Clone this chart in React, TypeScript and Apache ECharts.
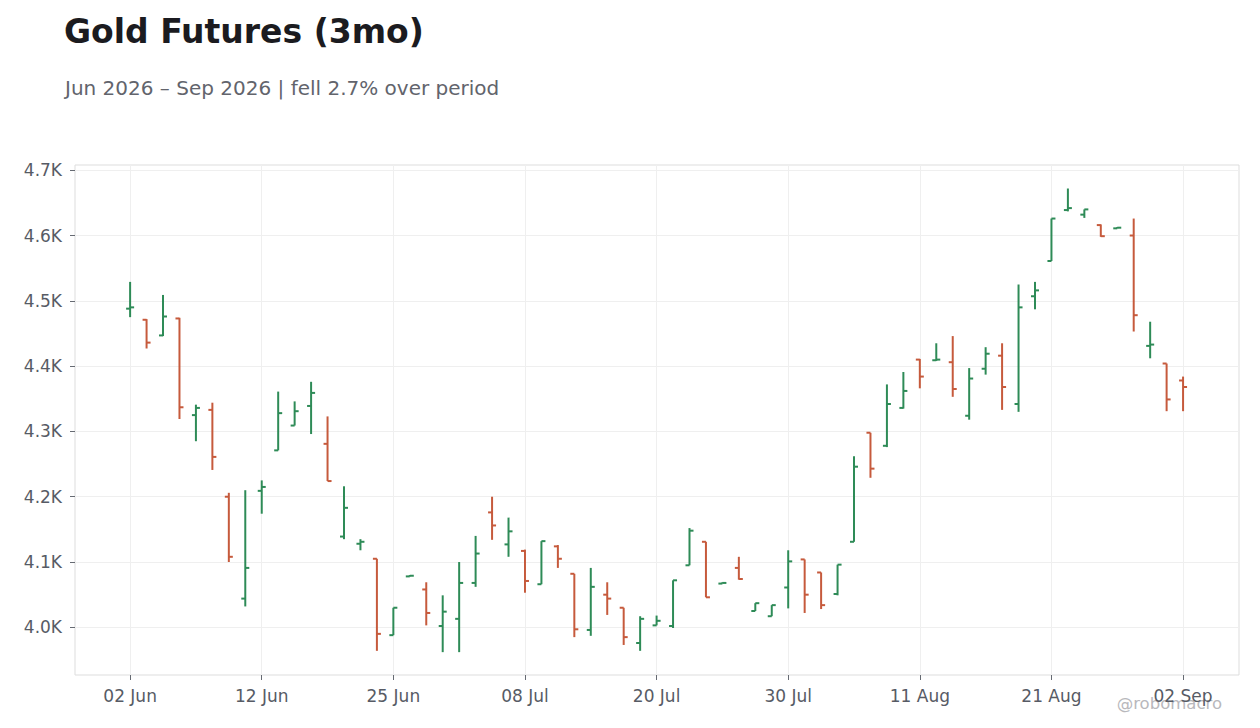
import React, { useEffect, useRef } from "react";
import * as echarts from "echarts";

// OHLC per trading day, 02 Jun 2026 .. 02 Sep 2026 (65 sessions)
const opens = [
  4488, 4471, 4447, 4473, 4325, 4333, 4200, 4044, 4209, 4271, 4309, 4339, 4281,
  4139, 4128, 4105, 3988, 4078, 4058, 4002, 4013, 4068, 4176, 4127, 4117, 4066,
  4124, 4082, 3996, 4050, 4030, 3976, 4003, 4002, 4095, 4131, 4067, 4091, 4025,
  4017, 4061, 4104, 4084, 4051, 4131, 4298, 4278, 4336, 4410, 4409, 4406, 4324,
  4396, 4416, 4342, 4507, 4561, 4639, 4632, 4616, 4611, 4600, 4431, 4404, 4378,
];
const highs = [
  4529, 4472, 4509, 4474, 4341, 4344, 4206, 4210, 4225, 4361, 4346, 4376, 4323,
  4216, 4135, 4105, 4030, 4080, 4069, 4049, 4100, 4140, 4200, 4168, 4119, 4132,
  4126, 4082, 4091, 4069, 4030, 4017, 4018, 4072, 4152, 4131, 4069, 4108, 4037,
  4034, 4118, 4104, 4084, 4096, 4262, 4298, 4372, 4391, 4411, 4435, 4446, 4397,
  4429, 4435, 4525, 4529, 4626, 4672, 4640, 4617, 4613, 4626, 4468, 4404, 4384,
];
const lows = [
  4475, 4427, 4446, 4319, 4285, 4241, 4100, 4032, 4174, 4271, 4309, 4296, 4224,
  4135, 4118, 3964, 3988, 4078, 4003, 3962, 3962, 4062, 4134, 4108, 4053, 4066,
  4091, 3985, 3987, 4019, 3973, 3964, 4003, 3999, 4095, 4046, 4067, 4073, 4025,
  4017, 4029, 4022, 4028, 4049, 4131, 4229, 4276, 4335, 4366, 4408, 4353, 4318,
  4387, 4333, 4330, 4487, 4561, 4637, 4627, 4598, 4611, 4453, 4412, 4331, 4331,
];
const closes = [
  4490, 4436, 4476, 4337, 4336, 4261, 4108, 4091, 4215, 4328, 4331, 4359, 4224,
  4183, 4131, 3990, 4030, 4079, 4022, 4024, 4068, 4113, 4156, 4147, 4071, 4132,
  4105, 3997, 4062, 4044, 3985, 4013, 4010, 4072, 4148, 4046, 4068, 4074, 4037,
  4034, 4101, 4050, 4034, 4096, 4246, 4243, 4342, 4362, 4384, 4410, 4365, 4381,
  4419, 4368, 4490, 4516, 4626, 4642, 4640, 4599, 4612, 4478, 4433, 4349, 4368,
];

// one label every 8 sessions
const tickLabels = [
  "02 Jun", "12 Jun", "25 Jun", "08 Jul", "20 Jul",
  "30 Jul", "11 Aug", "21 Aug", "02 Sep",
];
const tickStep = 8;
const yTicks = [4000, 4100, 4200, 4300, 4400, 4500, 4600, 4700];

const UP = "#2e8b57";
const DOWN = "#c65a3c";
const FONT = "DejaVu Sans";
const LABEL = "#575b65";

const App: React.FC = () => {
  const chartRef = useRef<HTMLDivElement>(null);

  useEffect(() => {
    document.body.style.margin = "0";
    if (!chartRef.current) return;
    const chart = echarts.init(chartRef.current, undefined, { renderer: "svg" });

    const data = opens.map((o, i) => [i, o, closes[i], lows[i], highs[i]]);
    const xTickValues = tickLabels.map((_, i) => i * tickStep);

    const option = {
      animation: false,
      backgroundColor: "#ffffff",
      textStyle: { fontFamily: FONT },
      title: [
        {
          text: "Gold Futures (3mo)",
          left: 59,
          top: 10,
          textStyle: { fontSize: 33, fontWeight: "bold", color: "#1b1b20", fontFamily: FONT },
        },
        {
          text: "Jun 2026 – Sep 2026 | fell 2.7% over period",
          left: 60,
          top: 73,
          textStyle: { fontSize: 20, fontWeight: "normal", color: "#62646c", fontFamily: FONT },
        },
      ],
      grid: {
        left: 75,
        right: 21,
        top: 165,
        bottom: 53,
        show: true,
        backgroundColor: "#ffffff",
        borderColor: "#dddddd",
        borderWidth: 1,
      },
      xAxis: {
        type: "value",
        min: -3.35,
        max: 67.4,
        axisLine: { show: false, onZero: false },
        axisTick: {
          show: true,
          length: 5,
          customValues: xTickValues,
          lineStyle: { color: "#666a72" },
        },
        axisLabel: {
          customValues: xTickValues,
          margin: 12,
          fontSize: 17,
          color: LABEL,
          fontFamily: FONT,
          formatter: (v: number) => tickLabels[Math.round(v / tickStep)] ?? "",
        },
        splitLine: { show: true, lineStyle: { color: "#efefef" } },
      },
      yAxis: {
        type: "value",
        min: 3927,
        max: 4708,
        axisLine: { show: false, onZero: false },
        axisTick: {
          show: true,
          length: 5,
          customValues: yTicks,
          lineStyle: { color: "#666a72" },
        },
        axisLabel: {
          customValues: yTicks,
          margin: 13,
          fontSize: 17,
          color: LABEL,
          fontFamily: FONT,
          formatter: (v: number) => (v / 1000).toFixed(1) + "K",
        },
        splitLine: { show: true, lineStyle: { color: "#efefef" } },
      },
      graphic: [
        {
          type: "text",
          right: 38,
          top: 695,
          style: {
            text: "@robomacro",
            fontSize: 16.5,
            fill: "#b8b8bc",
            fontFamily: FONT,
          },
        },
      ],
      series: [
        {
          type: "custom",
          data,
          encode: { x: 0, y: [1, 2, 3, 4] },
          renderItem: (params: any, api: any) => {
            const idx = api.value(0);
            const o = api.coord([idx, api.value(1)]);
            const c = api.coord([idx, api.value(2)]);
            const l = api.coord([idx, api.value(3)]);
            const h = api.coord([idx, api.value(4)]);
            const color = api.value(2) >= api.value(1) ? UP : DOWN;
            const x = o[0];
            const w = 4;
            const style = { stroke: color, lineWidth: 2 };
            return {
              type: "group",
              children: [
                { type: "line", shape: { x1: x, y1: h[1], x2: x, y2: l[1] }, style },
                { type: "line", shape: { x1: x - w, y1: o[1], x2: x, y2: o[1] }, style },
                { type: "line", shape: { x1: x, y1: c[1], x2: x + w, y2: c[1] }, style },
              ],
            };
          },
        },
      ],
    };

    chart.setOption(option);
    const handleResize = () => chart.resize();
    window.addEventListener("resize", handleResize);
    return () => {
      window.removeEventListener("resize", handleResize);
      chart.dispose();
    };
  }, []);

  return <div ref={chartRef} style={{ width: "1260px", height: "728px" }} />;
};

export default App;
